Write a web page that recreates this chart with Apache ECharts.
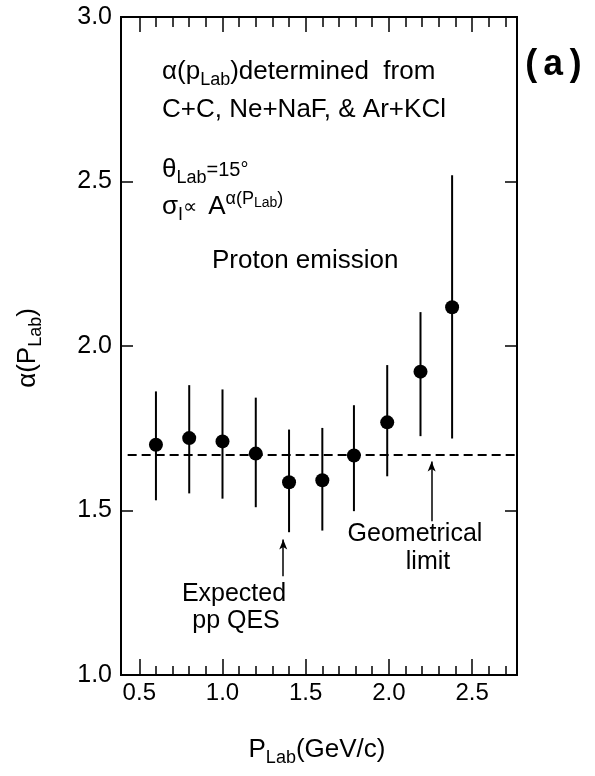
<!DOCTYPE html>
<html>
<head>
<meta charset="utf-8">
<script src="https://cdn.jsdelivr.net/npm/echarts@6/dist/echarts.min.js"></script>
<style>
html,body{margin:0;padding:0;background:#fff;}
#c{width:595px;height:776px;}
</style>
</head>
<body>
<div id="c"></div>
<script>
// ---- data ----
var pLab = [0.6, 0.8, 1.0, 1.2, 1.4, 1.6, 1.79, 1.99, 2.19, 2.38];
var alphaVal = [1.70, 1.72, 1.71, 1.673, 1.586, 1.592, 1.667, 1.768, 1.922, 2.118];
var errHigh = [1.862, 1.881, 1.868, 1.843, 1.746, 1.751, 1.820, 1.942, 2.103, 2.519];
var errLow = [1.531, 1.552, 1.536, 1.510, 1.434, 1.439, 1.498, 1.604, 1.726, 1.719];
var geometricalLimit = 1.67;
var xMajorTicks = [0.5, 1.0, 1.5, 2.0, 2.5];
var xMinorTicks = [0.6, 0.7, 0.8, 0.9, 1.1, 1.2, 1.3, 1.4, 1.6, 1.7, 1.8, 1.9, 2.1, 2.2, 2.3, 2.4, 2.6, 2.7];
var yTicks = [1.0, 1.5, 2.0, 2.5, 3.0];
var qesArrow = {x: 1.365, from: 1.30, to: 1.412};
var geoArrow = {x: 2.257, from: 1.467, to: 1.649};

var FONT = 'Liberation Sans';
var INK = '#000';
var chart = echarts.init(document.getElementById('c'), null, {renderer: 'canvas'});

var scatterData = pLab.map(function (x, i) { return [x, alphaVal[i]]; });
var errData = pLab.map(function (x, i) { return [x, errLow[i], errHigh[i]]; });

function xAxisDef(pos, ticks, len, showLabel) {
  return {
    type: 'value', position: pos, min: 0.39, max: 2.77,
    axisLine: {show: true, onZero: false, lineStyle: {color: INK, width: 2}},
    axisTick: {show: true, inside: true, length: len, customValues: ticks, lineStyle: {color: INK, width: 1.5}},
    axisLabel: showLabel ? {show: true, customValues: xMajorTicks, margin: 6, fontFamily: FONT, fontSize: 24, color: INK,
      formatter: function (v) { return (+v).toFixed(1); }} : {show: false},
    splitLine: {show: false}
  };
}

var rich = {
  m: {fontFamily: FONT, fontSize: 25, color: INK, lineHeight: 34},
  b: {fontFamily: FONT, fontSize: 26, color: INK, lineHeight: 34},
  s: {fontFamily: FONT, fontSize: 18, color: INK, lineHeight: 12, verticalAlign: 'bottom'},
  sm: {fontFamily: FONT, fontSize: 20, color: INK, lineHeight: 34},
  sup: {fontFamily: FONT, fontSize: 18, color: INK, lineHeight: 12, verticalAlign: 'top'},
  supsub: {fontFamily: FONT, fontSize: 14, color: INK, lineHeight: 12, verticalAlign: 'top', padding: [6, 0, 0, 0]}
};

function txt(x, y, text, align) {
  return {type: 'text', x: x, y: y, silent: true,
    style: {text: text, rich: rich, align: align || 'left', verticalAlign: 'middle'}};
}

var option = {
  backgroundColor: '#fff',
  animation: false,
  grid: {left: 121, top: 17, width: 396, height: 658},
  xAxis: [
    xAxisDef('bottom', xMajorTicks, 16, true),
    xAxisDef('bottom', xMinorTicks, 9, false),
    xAxisDef('top', xMajorTicks, 15, false),
    xAxisDef('top', xMinorTicks, 10, false)
  ],
  yAxis: [
    {type: 'value', position: 'left', min: 1.0, max: 3.0, interval: 0.5,
     axisLine: {show: true, lineStyle: {color: INK, width: 2}},
     axisTick: {show: true, inside: true, length: 12, lineStyle: {color: INK, width: 1.5}},
     axisLabel: {show: true, margin: 9, fontFamily: FONT, fontSize: 25, color: INK,
       formatter: function (v) { return (+v).toFixed(1); }},
     splitLine: {show: false}},
    {type: 'value', position: 'right', min: 1.0, max: 3.0, interval: 0.5,
     axisLine: {show: true, lineStyle: {color: INK, width: 2}},
     axisTick: {show: true, inside: true, length: 12, lineStyle: {color: INK, width: 1.5}},
     axisLabel: {show: false}, splitLine: {show: false}}
  ],
  series: [
    {
      type: 'custom', xAxisIndex: 0, yAxisIndex: 0, data: errData, silent: true,
      renderItem: function (params, api) {
        var a = api.coord([api.value(0), api.value(1)]);
        var b = api.coord([api.value(0), api.value(2)]);
        return {type: 'line', shape: {x1: a[0], y1: a[1], x2: b[0], y2: b[1]},
          style: {stroke: INK, lineWidth: 2}};
      }
    },
    {
      type: 'scatter', xAxisIndex: 0, yAxisIndex: 0, data: scatterData,
      symbol: 'circle', symbolSize: 14, itemStyle: {color: INK, opacity: 1}, silent: true,
      markLine: {
        silent: true, animation: false, label: {show: false},
        data: [
          [{coord: [0.43, geometricalLimit], symbol: 'none', lineStyle: {type: [9, 5], width: 2, color: INK}},
           {coord: [2.77, geometricalLimit], symbol: 'none'}],
          [{coord: [qesArrow.x, qesArrow.from], symbol: 'none', lineStyle: {type: 'solid', width: 1.5, color: INK}},
           {coord: [qesArrow.x, qesArrow.to], symbol: 'arrow', symbolSize: [6, 10]}],
          [{coord: [geoArrow.x, geoArrow.from], symbol: 'none', lineStyle: {type: 'solid', width: 1.5, color: INK}},
           {coord: [geoArrow.x, geoArrow.to], symbol: 'arrow', symbolSize: [6, 10]}]
        ]
      }
    }
  ],
  graphic: [
    txt(162, 72, '{b|α(p}{s|Lab}{b|)determined  from}'),
    txt(162, 110, '{b|C+C, Ne+NaF, & Ar+KCl}'),
    txt(162, 170, '{b|θ}{s|Lab}{sm|=15°}'),
    txt(162, 207, '{b|σ}{s|I}{sm|∝  }{b|A}{sup|α(P}{supsub|Lab}{sup|)}'),
    txt(212, 261, '{b|Proton emission}'),
    txt(234, 594, '{m|Expected}', 'center'),
    txt(236, 621, '{m|pp QES}', 'center'),
    txt(415, 534, '{m|Geometrical}', 'center'),
    txt(428, 562, '{m|limit}', 'center'),
    txt(317, 750, '{b|P}{s|Lab}{b|(GeV/c)}', 'center'),
    {type: 'text', x: 521, y: 66, silent: true,
     style: {text: '(a)', fontFamily: 'Liberation Mono', fontWeight: 'bold', fontSize: 36, fill: INK, align: 'left', verticalAlign: 'middle'}},
    {type: 'text', x: 28, y: 348, rotation: Math.PI / 2, silent: true,
     style: {text: '{b|α(P}{s|Lab}{b|)}', rich: rich, align: 'center', verticalAlign: 'middle'}}
  ]
};
chart.setOption(option);
</script>
</body>
</html>
